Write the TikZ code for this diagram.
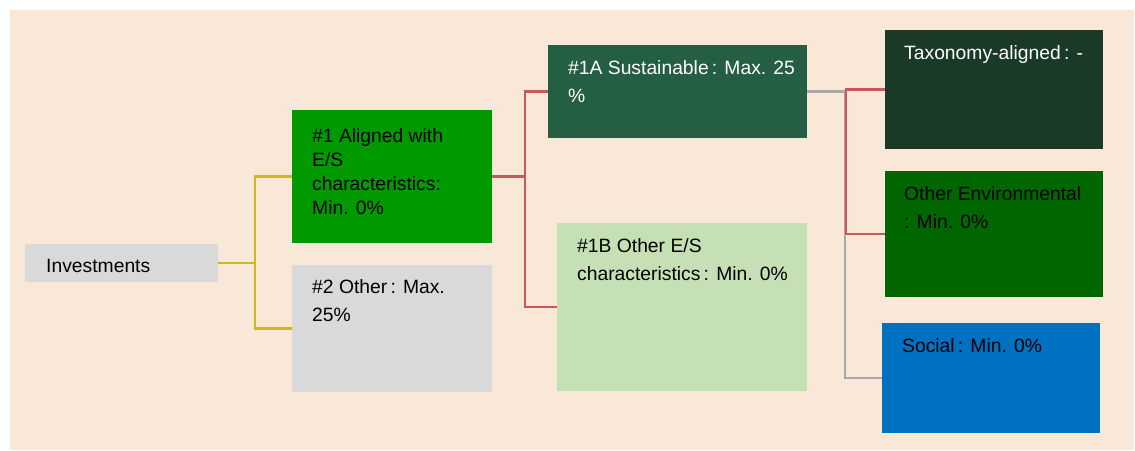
\documentclass[tikz,border=0pt]{standalone}
\usepackage{fontspec}
\setmainfont{Liberation Sans}
\usepackage{xcolor}
\usepackage{tikz}

\definecolor{beige}{HTML}{F9E8D7}
\definecolor{greyfill}{HTML}{D9D9D9}
\definecolor{aligngreen}{HTML}{009900}
\definecolor{sustgreen}{HTML}{245E43}
\definecolor{othergreen}{HTML}{C5E0B4}
\definecolor{taxgreen}{HTML}{1A3A27}
\definecolor{envgreen}{HTML}{006600}
\definecolor{socialblue}{HTML}{0070C0}
\definecolor{lineyellow}{HTML}{CBB91E}
\definecolor{linered}{HTML}{C9585A}
\definecolor{linegrey}{HTML}{A8A8A8}

\tikzset{
  box/.style={anchor=north west, inner sep=0pt, outer sep=0pt},
  txt/.style={anchor=base west, align=left, inner sep=0pt, font=\fontsize{19.3}{28}\selectfont},
  yline/.style={draw=lineyellow, line width=2.4pt},
  rline/.style={draw=linered, line width=2.4pt},
  gline/.style={draw=linegrey, line width=2.4pt}
}

\begin{document}
\begin{tikzpicture}[x=1pt,y=-1pt]
\useasboundingbox (0,0) rectangle (1135,450);
\fill[white] (0,0) rectangle (1135,450);
\fill[beige] (10,10) rectangle (1134,450);

% boxes
\node at (25,244) (inv) [box, fill=greyfill, minimum width=193pt, minimum height=38pt] {};
\node at (292,110) (al) [box, fill=aligngreen, minimum width=200pt, minimum height=133pt] {};
\node at (292,265) (ot) [box, fill=greyfill, minimum width=200pt, minimum height=127pt] {};
\node at (548,45) (su) [box, fill=sustgreen, minimum width=259pt, minimum height=93pt] {};
\node at (557,223) (es) [box, fill=othergreen, minimum width=250pt, minimum height=168pt] {};
\node at (885,30) (tx) [box, fill=taxgreen, minimum width=218pt, minimum height=119pt] {};
\node at (885,171) (en) [box, fill=envgreen, minimum width=218pt, minimum height=126pt] {};
\node at (882,323) (so) [box, fill=socialblue, minimum width=218pt, minimum height=110pt] {};

% texts (placed at the baseline of the last line)
\node at (46,272) (invT) [txt] {Investments};
\node at (312,214) (alT) [txt, font=\fontsize{19.3}{24}\selectfont] {\#1 Aligned with\\E/S\\characteristics:\\Min. 0\%};
\node at (312,321) (otT) [txt] {\#2 Other\,: Max.\\25\%};
\node at (568,102) (suT) [txt, text=white] {\#1A Sustainable\,: Max. 25\\\%};
\node at (577,280) (esT) [txt] {\#1B Other E/S\\characteristics\,: Min. 0\%};
\node at (904,59) (txT) [txt, text=white] {Taxonomy-aligned\,: -};
\node at (904,228) (enT) [txt] {Other Environmental\\: Min. 0\%};
\node at (902,352) (soT) [txt] {Social\,: Min. 0\%};

% connectors
\draw[yline] (inv.east) -- ++(37,0) coordinate (jy) |- (al.west);
\draw[yline] (jy) |- (ot.west);
\draw[rline] (al.east) -- ++(33,0) coordinate (jr) |- (su.west);
\draw[rline] (jr) |- (es.west);
\draw[gline] (su.east) -- ++(38,0) coordinate (jg) |- (so.west);
\coordinate (jt) at (846,89);
\draw[rline] (tx.west) -- (tx.west -| jt) |- (en.west);
\end{tikzpicture}
\end{document}
